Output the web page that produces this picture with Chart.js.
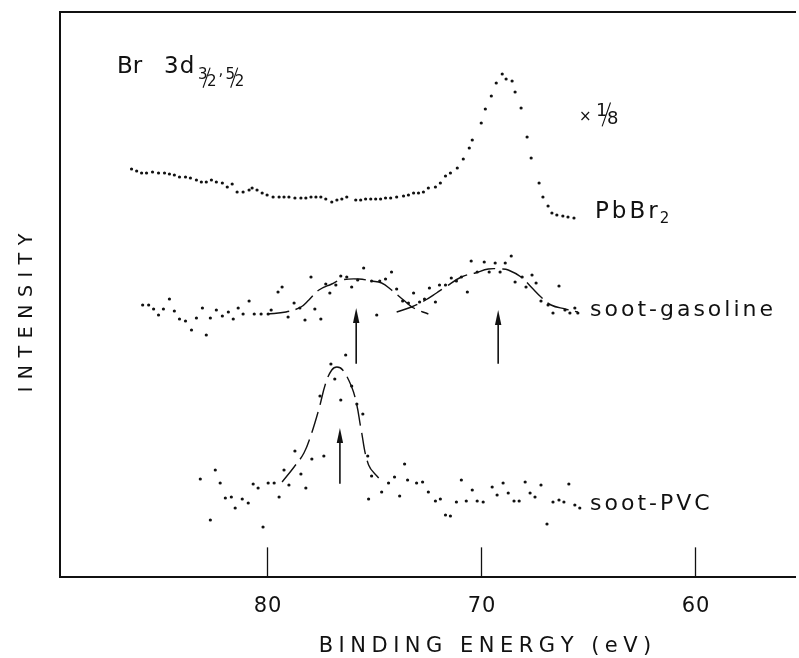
<!DOCTYPE html>
<html>
<head>
<meta charset="utf-8">
<style>
  html, body { margin: 0; padding: 0; background: #fff; }
  #wrap { width: 799px; height: 658px; }
</style>
<script src="https://cdn.jsdelivr.net/npm/chart.js@4.4.1/dist/chart.umd.min.js"></script>
</head>
<body>
<div id="wrap"><canvas id="spectrum" width="799" height="658"></canvas></div>
<script>
// binding energy (eV) / intensity (arb. units)
const xTicks = [80, 70, 60];

const pbbr2 = [
    [86.33, 408], [86.09, 406], [85.86, 404], [85.63, 404], [85.35, 405], [85.07, 404],
    [84.79, 404], [84.56, 403], [84.33, 402], [84.09, 400], [83.81, 400], [83.58, 399],
    [83.30, 397], [83.07, 395], [82.84, 395], [82.60, 397], [82.37, 395], [82.09, 394],
    [81.86, 390], [81.63, 393], [81.40, 385], [81.12, 385], [80.84, 387], [80.70, 389],
    [80.47, 387], [80.23, 384], [80.00, 382], [79.72, 380], [79.44, 380], [79.21, 380],
    [78.98, 380], [78.70, 379], [78.42, 379], [78.19, 379], [77.95, 380], [77.72, 380],
    [77.49, 380], [77.26, 378], [76.98, 375], [76.74, 377], [76.51, 378], [76.28, 380],
    [75.86, 377], [75.63, 377], [75.40, 378], [75.16, 378], [74.93, 378], [74.70, 378],
    [74.47, 379], [74.23, 379], [73.95, 380], [73.63, 381], [73.40, 382], [73.16, 384],
    [72.93, 384], [72.70, 385], [72.47, 389], [72.14, 390], [71.91, 394], [71.67, 401],
    [71.44, 404], [71.12, 409], [70.84, 418], [70.56, 429], [70.42, 437], [70.00, 454],
    [69.81, 468], [69.53, 481], [69.30, 494], [69.02, 503], [68.84, 498], [68.56, 496],
    [68.42, 485], [68.14, 469], [67.86, 440], [67.67, 419], [67.30, 394], [67.12, 380],
    [66.88, 371], [66.70, 364], [66.47, 362], [66.19, 361], [65.95, 360], [65.67, 359]
];

const sootGasoline = [
    [85.81, 272], [85.53, 272], [85.30, 268], [85.07, 262], [84.84, 268], [84.56, 278],
    [84.33, 266], [84.09, 258], [83.81, 256], [83.53, 247], [83.30, 259], [83.02, 269],
    [82.84, 242], [82.65, 259], [82.37, 267], [82.09, 261], [81.81, 265], [81.58, 258],
    [81.35, 269], [81.12, 263], [80.84, 276], [80.60, 263], [80.28, 263], [79.95, 263],
    [79.81, 267], [79.49, 285], [79.30, 290], [79.02, 260], [78.74, 274], [78.47, 269],
    [78.23, 257], [77.95, 300], [77.77, 268], [77.49, 258], [77.26, 293], [77.07, 284],
    [76.79, 292], [76.56, 301], [76.28, 300], [76.05, 290], [75.77, 297], [75.49, 309],
    [75.12, 296], [74.88, 262], [74.74, 296], [74.47, 298], [74.19, 305], [73.95, 288],
    [73.67, 276], [73.40, 274], [73.16, 284], [72.88, 275], [72.65, 278], [72.42, 289],
    [72.14, 275], [71.95, 292], [71.67, 292], [71.40, 299], [71.16, 296], [70.93, 300],
    [70.65, 285], [70.47, 316], [70.19, 305], [69.86, 315], [69.63, 305], [69.35, 314],
    [69.12, 305], [68.88, 314], [68.60, 321], [68.42, 295], [68.09, 300], [67.91, 290],
    [67.63, 302], [67.44, 294], [67.21, 276], [66.88, 272], [66.65, 264], [66.37, 291],
    [66.09, 267], [65.86, 264], [65.63, 269], [65.49, 264]
];

const sootPvc = [
    [83.12, 98], [82.65, 57], [82.42, 107], [82.19, 94], [81.95, 79], [81.67, 80],
    [81.49, 69], [81.16, 78], [80.88, 74], [80.65, 93], [80.42, 89], [80.19, 50],
    [79.95, 94], [79.67, 94], [79.44, 80], [79.21, 107], [78.98, 92], [78.70, 126],
    [78.42, 103], [78.19, 89], [77.91, 118], [77.53, 181], [77.35, 121], [77.02, 213],
    [76.84, 198], [76.56, 177], [76.33, 222], [76.05, 191], [75.81, 173], [75.53, 163],
    [75.30, 121], [75.26, 78], [75.12, 101], [74.65, 85], [74.33, 94], [74.05, 100],
    [73.81, 81], [73.58, 113], [73.44, 97], [73.02, 94], [72.74, 95], [72.47, 85],
    [72.14, 76], [71.91, 78], [71.67, 62], [71.44, 61], [71.16, 75], [70.93, 97],
    [70.70, 76], [70.42, 87], [70.19, 76], [69.91, 75], [69.49, 90], [69.26, 82],
    [68.98, 94], [68.74, 84], [68.47, 76], [68.23, 76], [67.95, 95], [67.72, 84],
    [67.49, 80], [67.21, 92], [66.93, 53], [66.65, 75], [66.37, 77], [66.14, 75],
    [65.91, 93], [65.63, 72], [65.40, 69]
];

// hand-drawn fitted components
const gasolineFitHigh = [
    [80.00, 263], [79.12, 265], [78.42, 270], [78.05, 277], [77.58, 287], [76.98, 293],
    [76.56, 297], [75.72, 298], [75.12, 296], [74.65, 294], [74.19, 287], [73.63, 277],
    [73.16, 269], [72.47, 263]
];
const gasolineFitLow = [
    [73.95, 265], [73.26, 270], [72.60, 277], [72.09, 284], [71.67, 290], [70.93, 300],
    [70.28, 304], [69.67, 308], [69.07, 308], [68.74, 307], [68.14, 300], [67.67, 290],
    [67.21, 280], [66.74, 272], [66.09, 268], [65.49, 265]
];
const pvcFit = [
    [79.30, 95], [78.74, 110], [78.28, 124], [77.95, 142], [77.58, 168], [77.26, 194],
    [76.98, 207], [76.74, 210], [76.47, 207], [76.05, 190], [75.81, 172], [75.63, 150],
    [75.26, 112], [74.79, 99]
];

// peak markers: energy, arrow tail, arrow tip
const peakArrows = [
    [75.84, 214, 269],
    [69.21, 214, 267],
    [76.60, 94, 149]
];

const ink = '#111';
const FONT = '"DejaVu Sans", "Liberation Sans", sans-serif';

const toXY = (rows) => rows.map(([x, y]) => ({ x, y }));

const dots = (rows) => ({
    data: toXY(rows),
    showLine: false,
    pointRadius: 1.6,
    pointBorderWidth: 0,
    pointBackgroundColor: ink
});

const fit = (rows) => ({
    data: toXY(rows),
    showLine: true,
    pointRadius: 0,
    borderColor: ink,
    borderWidth: 1.4,
    borderDash: [22, 7],
    tension: 0.4,
    fill: false
});

const spaced = (ctx, text, x, y, gap, align) => {
    const chars = [...text];
    const widths = chars.map((ch) => ctx.measureText(ch).width);
    const total = widths.reduce((a, b) => a + b, 0) + gap * (chars.length - 1);
    let cx = align === 'center' ? x - total / 2 : x;
    ctx.textAlign = 'left';
    chars.forEach((ch, i) => {
        ctx.fillText(ch, cx, y);
        cx += widths[i] + gap;
    });
    return cx;
};

// small slashed fraction like 3/2, top digit raised, bottom digit dropped
const slashed = (ctx, num, den, x, y, size) => {
    ctx.font = `${size}px ${FONT}`;
    ctx.fillText(num, x, y);
    const w = ctx.measureText(num).width;
    ctx.save();
    ctx.lineWidth = 1.1;
    ctx.beginPath();
    ctx.moveTo(x + w * 0.55, y + size * 0.55);
    ctx.lineTo(x + w * 1.25, y - size * 0.72);
    ctx.stroke();
    ctx.restore();
    ctx.fillText(den, x + w * 0.95, y + size * 0.45);
    return x + w * 0.95 + ctx.measureText(den).width;
};

const paperFrame = {
    id: 'paperFrame',
    afterDatasetsDraw(chart) {
        const { ctx, chartArea: area, scales: { x, y } } = chart;
        ctx.save();
        ctx.strokeStyle = ink;
        ctx.fillStyle = ink;
        ctx.lineCap = 'square';

        // frame: left, top, bottom
        ctx.lineWidth = 2;
        ctx.beginPath();
        ctx.moveTo(area.right, area.top);
        ctx.lineTo(area.left, area.top);
        ctx.lineTo(area.left, area.bottom);
        ctx.lineTo(area.right, area.bottom);
        ctx.stroke();

        // inward ticks and labels
        ctx.lineWidth = 1.3;
        ctx.font = `21px ${FONT}`;
        ctx.textBaseline = 'alphabetic';
        xTicks.forEach((v) => {
            const px = Math.round(x.getPixelForValue(v)) + 0.5;
            ctx.beginPath();
            ctx.moveTo(px, area.bottom);
            ctx.lineTo(px, area.bottom - 29);
            ctx.stroke();
            spaced(ctx, String(v), px, area.bottom + 35, 1, 'center');
        });

        spaced(ctx, 'BINDING ENERGY (eV)', 485, 652, 5.5, 'center');

        ctx.save();
        ctx.translate(27, 313);
        ctx.rotate(-Math.PI / 2);
        ctx.font = `19px ${FONT}`;
        ctx.textBaseline = 'middle';
        spaced(ctx, 'INTENSITY', 0, 0, 7.5, 'center');
        ctx.restore();

        // peak arrows
        ctx.lineWidth = 1.6;
        peakArrows.forEach(([e, tail, tip]) => {
            const px = x.getPixelForValue(e);
            const y0 = y.getPixelForValue(tail);
            const y1 = y.getPixelForValue(tip);
            ctx.beginPath();
            ctx.moveTo(px, y0);
            ctx.lineTo(px, y1 + 8);
            ctx.stroke();
            ctx.beginPath();
            ctx.moveTo(px, y1);
            ctx.lineTo(px - 3.2, y1 + 15);
            ctx.lineTo(px + 3.2, y1 + 15);
            ctx.closePath();
            ctx.fill();
        });

        // annotations
        ctx.textBaseline = 'alphabetic';
        ctx.font = `23px ${FONT}`;
        ctx.fillText('Br', 117, 73);
        spaced(ctx, '3d', 164, 73, 1);
        let cx = slashed(ctx, '3', '2', 198, 79, 15);
        ctx.fillText(',', cx + 2, 75);
        slashed(ctx, '5', '2', cx + 9, 79, 15);

        ctx.font = `15px ${FONT}`;
        ctx.fillText('×', 579, 121);
        slashed(ctx, '1', '8', 596, 116, 18);

        ctx.font = `23px ${FONT}`;
        const end = spaced(ctx, 'PbBr', 595, 218, 3);
        ctx.font = `15px ${FONT}`;
        ctx.fillText('2', end - 1, 223);

        ctx.font = `22px ${FONT}`;
        spaced(ctx, 'soot-gasoline', 590, 316, 3);
        spaced(ctx, 'soot-PVC', 590, 510, 3);

        ctx.restore();
    }
};

new Chart(document.getElementById('spectrum'), {
    type: 'scatter',
    data: {
        datasets: [
            dots(pbbr2),
            dots(sootGasoline),
            dots(sootPvc),
            fit(gasolineFitHigh),
            fit(gasolineFitLow),
            fit(pvcFit)
        ]
    },
    options: {
        responsive: false,
        animation: false,
        devicePixelRatio: 1,
        layout: { padding: { left: 60, top: 12, right: 0, bottom: 81 } },
        plugins: {
            legend: { display: false },
            tooltip: { enabled: false }
        },
        scales: {
            x: { type: 'linear', reverse: true, min: 55.35, max: 89.67, display: false },
            y: { type: 'linear', min: 0, max: 565, display: false }
        }
    },
    plugins: [paperFrame]
});
</script>
</body>
</html>
